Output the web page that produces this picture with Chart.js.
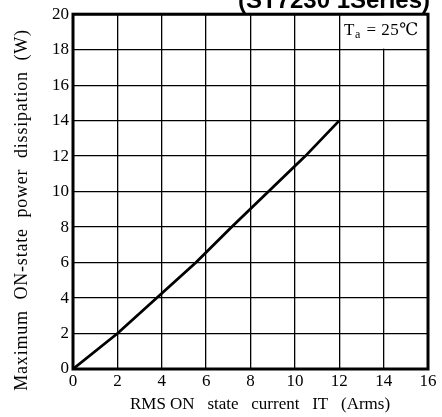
<!DOCTYPE html>
<html>
<head>
<meta charset="utf-8">
<script src="https://cdn.jsdelivr.net/npm/chart.js@4"></script>
<style>
  body { margin: 0; background: #fff; }
  #wrap { width: 442px; height: 417px; }
</style>
</head>
<body>
<div id="wrap"><canvas id="chart" width="442" height="417"></canvas></div>
<script>
// values
const currentIT = [0, 2, 3.77, 5.54, 7.15, 8.81, 10.47, 12];
const powerW = [0, 2, 4, 6, 8, 10, 12, 14];
const xTicks = [0, 2, 4, 6, 8, 10, 12, 14, 16];
const yTicks = [0, 2, 4, 6, 8, 10, 12, 14, 16, 18, 20];
const titleText = "(ST7230 1Series)";
const noteText = ["T", "a", " = 25\u2103"];
const xTitle = "RMS ON   state   current   IT   (Arms)";
const yTitle = "Maximum  ON-state  power  dissipation  (W)";

const serif = "'Liberation Serif', 'DejaVu Serif', serif";

// draws frame, axis titles, the Ta box and the cut-off series title
const extras = {
    id: 'extras',
    afterDraw(chart) {
        const ctx = chart.ctx;
        const a = chart.chartArea;
        const xs = chart.scales.x;
        const ys = chart.scales.y;

        // Ta note box in top-right cell
        let x14 = xs.getPixelForValue(14);
        let y18 = ys.getPixelForValue(18);
        ctx.save();
        ctx.fillStyle = "#fff";
        ctx.fillRect(x14 - 1.5, a.top + 1, a.right - x14, y18 - a.top - 2);
        ctx.fillStyle = "#000";
        ctx.textBaseline = "alphabetic";
        ctx.letterSpacing = "0.5px";
        ctx.font = "17px " + serif;
        let tx = a.right - 84;
        let ty = a.top + 21;
        ctx.fillText(noteText[0], tx, ty);
        let w = ctx.measureText(noteText[0]).width;
        ctx.font = "12px " + serif;
        ctx.fillText(noteText[1], tx + w, ty + 3);
        let w2 = ctx.measureText(noteText[1]).width;
        ctx.font = "17px " + serif;
        ctx.fillText(noteText[2], tx + w + w2 + 1, ty);

        // outer frame
        ctx.lineWidth = 3;
        ctx.strokeStyle = "#000";
        ctx.strokeRect(a.left, a.top, a.right - a.left, a.bottom - a.top);

        // axis titles
        ctx.letterSpacing = "0px";
        ctx.font = "17px " + serif;
        ctx.textAlign = "center";
        ctx.textBaseline = "middle";
        ctx.fillText(xTitle, 260, 405);
        ctx.save();
        ctx.letterSpacing = "0.8px";
        ctx.font = "18px " + serif;
        ctx.translate(22, 210);
        ctx.rotate(-Math.PI / 2);
        ctx.fillText(yTitle, 0, 0);
        ctx.restore();

        // series title, cut at the top edge
        ctx.letterSpacing = "0px";
        ctx.font = "bold 24px 'Liberation Sans', Arial, sans-serif";
        ctx.textAlign = "center";
        ctx.textBaseline = "alphabetic";
        ctx.fillText(titleText, 334, 8);
        ctx.restore();
    }
};

new Chart(document.getElementById('chart'), {
    type: 'line',
    data: {
        datasets: [{
            data: currentIT.map((x, i) => ({ x: x, y: powerW[i] })),
            borderColor: '#000',
            borderWidth: 2.8,
            pointRadius: 0,
            tension: 0,
            fill: false
        }]
    },
    options: {
        responsive: false,
        animation: false,
        layout: { padding: { top: 14, right: 14, left: 0, bottom: 0 } },
        plugins: { legend: { display: false }, tooltip: { enabled: false } },
        scales: {
            x: {
                type: 'linear',
                min: 0,
                max: 16,
                afterBuildTicks: (s) => { s.ticks = xTicks.map(v => ({ value: v })); },
                afterFit: (s) => { s.height = 48; },
                grid: { color: '#000', lineWidth: 1.3, drawTicks: false },
                border: { display: false },
                ticks: { color: '#000', font: { family: serif, size: 17 }, padding: 2, maxRotation: 0 }
            },
            y: {
                type: 'linear',
                min: 0,
                max: 20,
                afterBuildTicks: (s) => { s.ticks = yTicks.map(v => ({ value: v })); },
                afterFit: (s) => { s.width = 73; },
                grid: { color: '#000', lineWidth: 1.3, drawTicks: false },
                border: { display: false },
                ticks: { color: '#000', font: { family: serif, size: 17 }, padding: 4 }
            }
        }
    },
    plugins: [extras]
});
</script>
</body>
</html>
